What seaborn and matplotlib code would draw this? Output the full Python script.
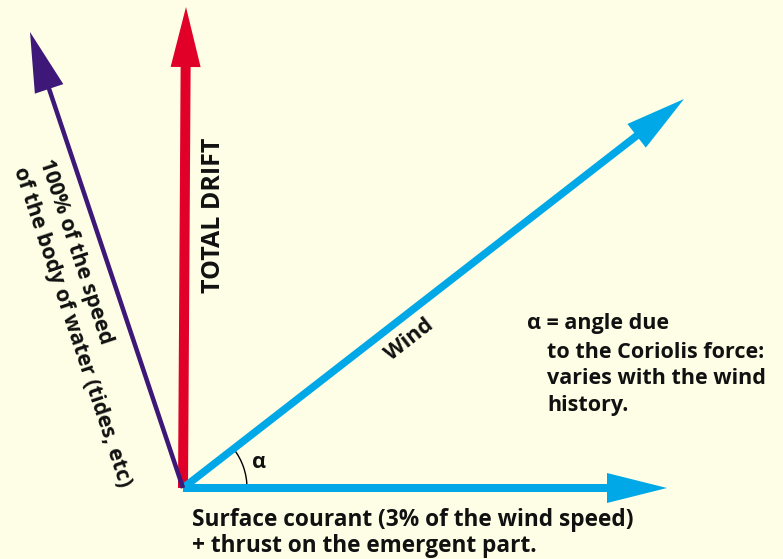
import matplotlib.pyplot as plt
import matplotlib.patches as mpatches
import seaborn as sns

# vector diagram, coordinates in picture units (y grows downwards)
origin = (183, 488)
vectors = ["total drift", "water body", "wind", "surface current"]
tip_x = [186, 30, 684, 667]
tip_y = [7, 32, 99, 488]
colors = ["#E10028", "#3D1878", "#00A8E8", "#00A8E8"]
shaft_w = [10, 4.5, 7.5, 8]

alpha_deg = 37.8
alpha_r = 64

bg = "#FEFEE6"
sns.set_theme(style="white", rc={"axes.facecolor": bg, "figure.facecolor": bg})
plt.rcParams['font.family'] = ['Open Sans', 'DejaVu Sans']

fig = plt.figure(figsize=(7.83, 5.59), dpi=100)
ax = fig.add_axes([0, 0, 1, 1])
ax.set_xlim(0, 783)
ax.set_ylim(559, 0)
ax.axis("off")

ox, oy = origin
for name, tx, ty, c, w in zip(vectors, tip_x, tip_y, colors, shaft_w):
    ax.arrow(ox, oy, tx - ox, ty - oy, width=w, head_width=30, head_length=60,
             length_includes_head=True, color=c, lw=0, zorder=3 if name == "water body" else 2)

ax.add_patch(mpatches.Arc(origin, 2 * alpha_r, 2 * alpha_r, theta1=-alpha_deg, theta2=0,
                          color="black", lw=1))

fs = 15.5
txt = dict(color="#111111", fontweight="bold")
ax.text(213, 215, "TOTAL DRIFT", rotation=90, ha="center", va="center", fontsize=18, **txt)
ax.text(409, 340, "Wind", rotation=alpha_deg, ha="center", va="center",
        rotation_mode="anchor", fontsize=fs, **txt)
ax.text(259, 462, "\u03b1", ha="center", va="center", fontsize=fs, **txt)
ax.text(85, 323, "100% of the speed\nof the body of water (tides, etc)", rotation=-71.6,
        ha="center", va="center", multialignment="left", rotation_mode="anchor",
        linespacing=1.35, fontsize=fs, **txt)
ax.text(527, 323, "\u03b1 = angle due", ha="left", va="center", fontsize=fs, **txt)
ax.text(547, 379, "to the Coriolis force:\nvaries with the wind\nhistory.", ha="left",
        va="center", linespacing=1.33, fontsize=fs, **txt)
ax.text(192, 533, "Surface courant (3% of the wind speed)\n+ thrust on the emergent part.",
        ha="left", va="center", linespacing=1.1, fontsize=16.3, **txt)

fig.savefig("out.png", dpi=100, facecolor=bg)
